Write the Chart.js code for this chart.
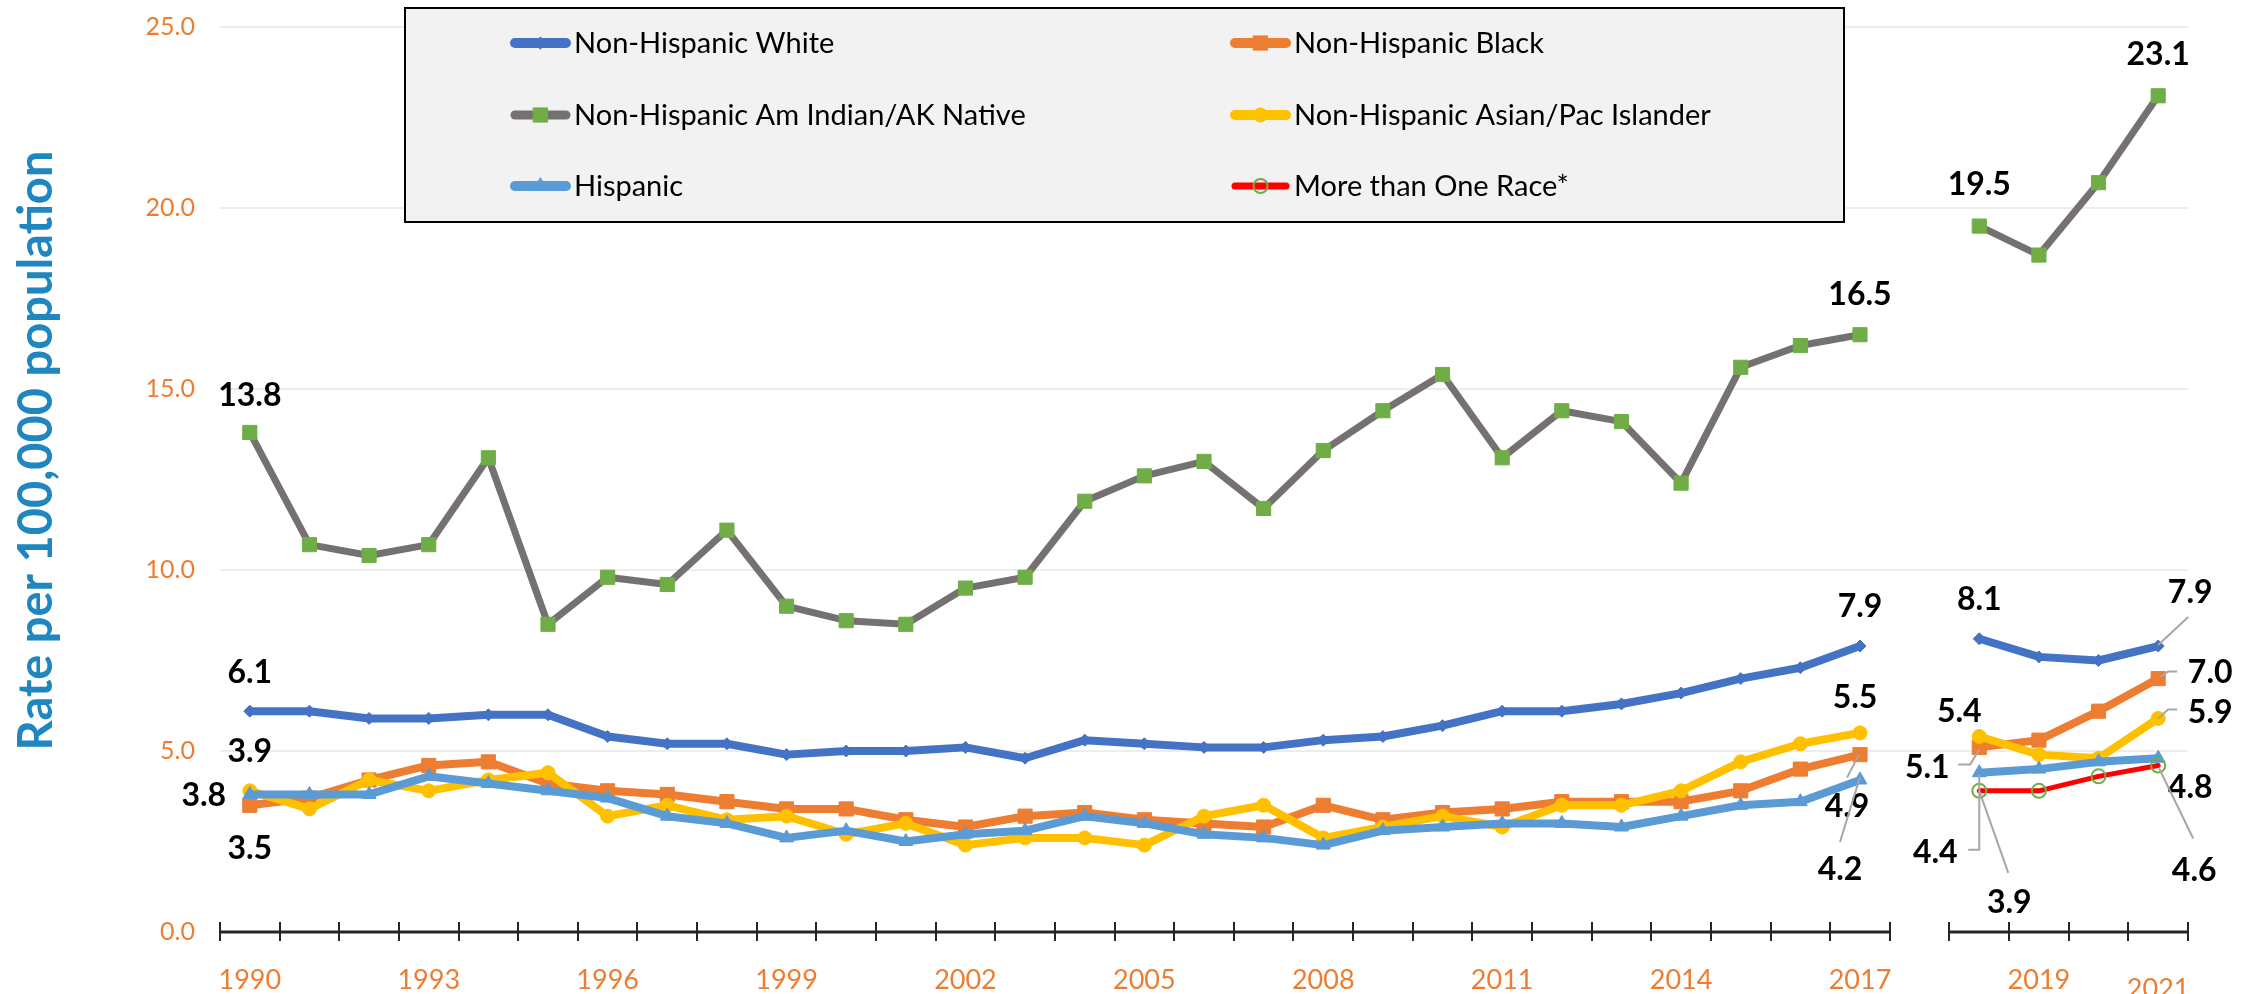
<!DOCTYPE html>
<html><head><meta charset="utf-8">
<script src="https://cdn.jsdelivr.net/npm/chart.js@4.4.1/dist/chart.umd.min.js"></script>
<style>
html,body{margin:0;padding:0;background:#fff;}
#wrap{position:relative;width:2255px;height:994px;}
canvas{display:block;}
</style></head><body>
<div id="wrap"><canvas id="c" width="2255" height="994"></canvas></div>
<script>
// ---------- DATA ----------
const yearsA = [1990,1991,1992,1993,1994,1995,1996,1997,1998,1999,2000,2001,2002,2003,2004,2005,2006,2007,2008,2009,2010,2011,2012,2013,2014,2015,2016,2017];
const yearsB = [2018,2019,2020,2021];
const xTickShown = ['1990','1993','1996','1999','2002','2005','2008','2011','2014','2017','2019','2021'];
const seriesNames = ['Non-Hispanic White','Non-Hispanic Black','Non-Hispanic Am Indian/AK Native','Non-Hispanic Asian/Pac Islander','Hispanic','More than One Race*'];
const yAxisTitle = 'Rate per 100,000 population';

// values 1990-2017 followed by 2018-2021
const white    = [6.1,6.1,5.9,5.9,6.0,6.0,5.4,5.2,5.2,4.9,5.0,5.0,5.1,4.8,5.3,5.2,5.1,5.1,5.3,5.4,5.7,6.1,6.1,6.3,6.6,7.0,7.3,7.9, 8.1,7.6,7.5,7.9];
const black    = [3.5,3.7,4.2,4.6,4.7,4.1,3.9,3.8,3.6,3.4,3.4,3.1,2.9,3.2,3.3,3.1,3.0,2.9,3.5,3.1,3.3,3.4,3.6,3.6,3.6,3.9,4.5,4.9, 5.1,5.3,6.1,7.0];
const aian     = [13.8,10.7,10.4,10.7,13.1,8.5,9.8,9.6,11.1,9.0,8.6,8.5,9.5,9.8,11.9,12.6,13.0,11.7,13.3,14.4,15.4,13.1,14.4,14.1,12.4,15.6,16.2,16.5, 19.5,18.7,20.7,23.1];
const asian    = [3.9,3.4,4.2,3.9,4.2,4.4,3.2,3.5,3.1,3.2,2.7,3.0,2.4,2.6,2.6,2.4,3.2,3.5,2.6,2.9,3.2,2.9,3.5,3.5,3.9,4.7,5.2,5.5, 5.4,4.9,4.8,5.9];
const hispanic = [3.8,3.8,3.8,4.3,4.1,3.9,3.7,3.2,3.0,2.6,2.8,2.5,2.7,2.8,3.2,3.0,2.7,2.6,2.4,2.8,2.9,3.0,3.0,2.9,3.2,3.5,3.6,4.2, 4.4,4.5,4.7,4.8];
const multi    = [3.9,3.9,4.3,4.6]; // 2018-2021 only

// ---------- BUILD ----------
const labels = [...yearsA.map(String), '', ...yearsB.map(String)];
const nA = yearsA.length;
function withGap(arr){ return [...arr.slice(0,nA), null, ...arr.slice(nA)]; }
function onlyB(arr){ return [...new Array(nA+1).fill(null), ...arr]; }
function idxOf(year){ const a = yearsA.indexOf(year); return a >= 0 ? a : nA + 1 + yearsB.indexOf(year); }

const FONT = 'Lato, "Open Sans", "Liberation Sans", sans-serif';
const ORANGE_TXT = '#ED7D31';

function ds(label, data, color, extra){
  return Object.assign({
    label, data,
    borderColor: color, backgroundColor: color,
    pointBackgroundColor: color, pointBorderColor: color,
    borderWidth: 8, borderJoinStyle: 'round', borderCapStyle: 'round',
    pointBorderWidth: 1, spanGaps: false, tension: 0
  }, extra);
}

const datasets = [
  ds(seriesNames[0], withGap(white), '#4472C4', {pointStyle:'rectRot', pointRadius:6, order:5}),
  ds(seriesNames[1], withGap(black), '#ED7D31', {pointStyle:'rect', pointRadius:10, order:4}),
  ds(seriesNames[2], withGap(aian), '#767171', {borderWidth:7, pointStyle:'rect', pointRadius:10,
      pointBackgroundColor:'#70AD47', pointBorderColor:'#70AD47', order:3}),
  ds(seriesNames[3], withGap(asian), '#FFC000', {pointStyle:'circle', pointRadius:7, order:2}),
  ds(seriesNames[4], withGap(hispanic), '#5B9BD5', {pointStyle:'triangle', pointRadius:8, order:1}),
  ds(seriesNames[5], onlyB(multi), '#FF0000', {borderWidth:5, pointStyle:'circle', pointRadius:7,
      pointBackgroundColor:'rgba(0,0,0,0)', pointBorderColor:'#70AD47', pointBorderWidth:2, order:0})
];

// label placements (pixel offsets from the data point): series index, year, offset, optional leader polyline
const labelPlacements = [
  {s:2, y:1990, dx:0,   dy:-37},
  {s:0, y:1990, dx:0,   dy:-38},
  {s:3, y:1990, dx:0,   dy:-39},
  {s:4, y:1990, dx:-46, dy:1},
  {s:1, y:1990, dx:0,   dy:43},
  {s:2, y:2017, dx:0,   dy:-40},
  {s:0, y:2017, dx:0,   dy:-39},
  {s:3, y:2017, dx:-5,  dy:-35},
  {s:1, y:2017, dx:-13, dy:52,  leader:[[-13,23],[-1,0]]},
  {s:4, y:2017, dx:-20, dy:90,  leader:[[-20,62],[0,-3]]},
  {s:2, y:2018, dx:0,   dy:-41},
  {s:2, y:2021, dx:0,   dy:-41},
  {s:0, y:2018, dx:0,   dy:-39},
  {s:3, y:2018, dx:-20, dy:-25},
  {s:1, y:2018, dx:-52, dy:20,  leader:[[-21,17],[-9,17],[0,2]]},
  {s:4, y:2018, dx:-44, dy:80,  leader:[[-11,77],[0,77],[0,2]]},
  {s:5, y:2018, dx:30,  dy:112, leader:[[29,82],[0,0]]},
  {s:0, y:2021, dx:32,  dy:-53, leader:[[30,-29],[0,-1]]},
  {s:1, y:2021, dx:52,  dy:-6,  leader:[[19,-7],[10,-7],[2,-2]]},
  {s:3, y:2021, dx:52,  dy:-6,  leader:[[19,-9],[10,-9],[0,0]]},
  {s:4, y:2021, dx:32,  dy:29},
  {s:5, y:2021, dx:36,  dy:105, leader:[[35,73],[1,3]]}
];

// ---------- PLUGINS ----------
const splitAxis = {
  id:'splitAxis',
  beforeDatasetsDraw(chart){
    const xs = chart.scales.x, ys = chart.scales.y, ctx = chart.ctx;
    const half = (xs.getPixelForValue(1) - xs.getPixelForValue(0)) / 2;
    const y0 = ys.getPixelForValue(0);
    const segs = [[0, nA-1], [nA+1, labels.length-1]];
    ctx.save();
    ctx.strokeStyle = '#262626';
    segs.forEach(([a,b]) => {
      const x1 = xs.getPixelForValue(a) - half, x2 = xs.getPixelForValue(b) + half;
      ctx.lineWidth = 3;
      ctx.beginPath(); ctx.moveTo(x1, y0); ctx.lineTo(x2, y0); ctx.stroke();
      ctx.lineWidth = 2;
      for (let i = a; i <= b + 1; i++){
        const x = Math.round(xs.getPixelForValue(i) - half);
        ctx.beginPath(); ctx.moveTo(x, y0 - 10); ctx.lineTo(x, y0 + 9); ctx.stroke();
      }
    });
    ctx.restore();
  }
};

// nudge the y-axis title slightly above the plot's vertical centre (as in the original layout)
const titleNudge = {
  id:'titleNudge',
  afterLayout(chart){
    const ys = chart.scales.y;
    ys.top -= 29; ys.bottom -= 29;
  }
};

const pointLabels = {
  id:'pointLabels',
  afterDatasetsDraw(chart){
    const ctx = chart.ctx;
    ctx.save();
    labelPlacements.forEach(p => {
      const meta = chart.getDatasetMeta(p.s);
      const i = idxOf(p.y);
      const el = meta.data[i];
      const v = chart.data.datasets[p.s].data[i];
      if (!el || v == null) return;
      const px = el.x, py = el.y;
      if (p.leader){
        ctx.strokeStyle = '#A6A6A6'; ctx.lineWidth = 2;
        ctx.beginPath();
        p.leader.forEach(([lx,ly], k) => { if (k===0) ctx.moveTo(px+lx, py+ly); else ctx.lineTo(px+lx, py+ly); });
        ctx.stroke();
      }
      ctx.fillStyle = '#000';
      ctx.font = 'bold 32px ' + FONT;
      ctx.textAlign = 'center'; ctx.textBaseline = 'middle';
      ctx.fillText(v.toFixed(1), px + p.dx, py + p.dy);
    });
    ctx.restore();
  }
};

const boxLegend = {
  id:'boxLegend',
  afterDraw(chart){
    const ctx = chart.ctx;
    const box = {x:405, y:8, w:1439, h:214};
    const colX = [510, 1230], rowY = [43, 115, 186], symLen = 61;
    ctx.save();
    ctx.fillStyle = '#F2F2F2';
    ctx.fillRect(box.x, box.y, box.w, box.h);
    ctx.strokeStyle = '#000'; ctx.lineWidth = 2;
    ctx.strokeRect(box.x, box.y, box.w, box.h);
    chart.data.datasets.forEach((d, k) => {
      const cx = colX[k % 2], cy = rowY[Math.floor(k / 2)];
      ctx.strokeStyle = d.borderColor;
      ctx.lineWidth = d.borderWidth + 2; ctx.lineCap = 'round';
      ctx.beginPath(); ctx.moveTo(cx + 5, cy); ctx.lineTo(cx + symLen - 5, cy); ctx.stroke();
      ctx.fillStyle = d.pointBackgroundColor; ctx.strokeStyle = d.pointBorderColor;
      ctx.lineWidth = d.pointBorderWidth;
      Chart.helpers.drawPoint(ctx, {pointStyle: d.pointStyle, radius: d.pointRadius, borderWidth: d.pointBorderWidth, rotation: 0}, cx + symLen/2, cy);
      ctx.fillStyle = '#000';
      ctx.font = '29px ' + FONT;
      ctx.textAlign = 'left'; ctx.textBaseline = 'middle';
      ctx.fillText(d.label, cx + symLen + 3, cy + 1);
    });
    ctx.restore();
  }
};

function build(){
  new Chart(document.getElementById('c'), {
    type: 'line',
    data: { labels, datasets },
    plugins: [titleNudge, splitAxis, pointLabels, boxLegend],
    options: {
      responsive: false, animation: false, devicePixelRatio: 1,
      layout: { padding: { left: 0, top: 27, right: 67, bottom: 0 } },
      plugins: { legend: { display: false }, tooltip: { enabled: false } },
      scales: {
        x: {
          type: 'category', offset: true,
          grid: { display: false }, border: { display: false },
          afterFit(s){ s.height = 62; s.paddingLeft = 0; s.paddingRight = 0; },
          ticks: {
            autoSkip: false, maxRotation: 0, minRotation: 0, padding: 24,
            color: ORANGE_TXT,
            font: (c) => ({ family: FONT, size: 27, lineHeight: (c.index === labels.length - 1) ? 1.85 : 1.2 }),
            callback: function(val, i){ const l = labels[i]; return xTickShown.includes(l) ? l : ''; }
          }
        },
        y: {
          min: 0, max: 25,
          afterFit(s){ s.width = 220; s.paddingTop = 0; s.paddingBottom = 0; },
          border: { display: false },
          grid: { color: (c) => c.tick && c.tick.value === 0 ? 'rgba(0,0,0,0)' : '#EDEDED', lineWidth: 2, drawTicks: false },
          ticks: { stepSize: 5, padding: 25, color: ORANGE_TXT, font: { family: FONT, size: 25 },
                   callback: (v) => Number(v).toFixed(1) },
          title: { display: true, text: yAxisTitle, color: '#1F86C0', align: 'center',
                   font: { family: FONT, size: 47, weight: 'bold', lineHeight: 1.2 }, padding: { top: 9, bottom: 0 } }
        }
      }
    }
  });
}
const fontLoads = ['25px Lato','29px Lato','bold 32px Lato','bold 47px Lato'].map(f => document.fonts.load(f).catch(()=>null));
Promise.race([Promise.all(fontLoads), new Promise(r => setTimeout(r, 800))]).then(build);
</script>
</body></html>
